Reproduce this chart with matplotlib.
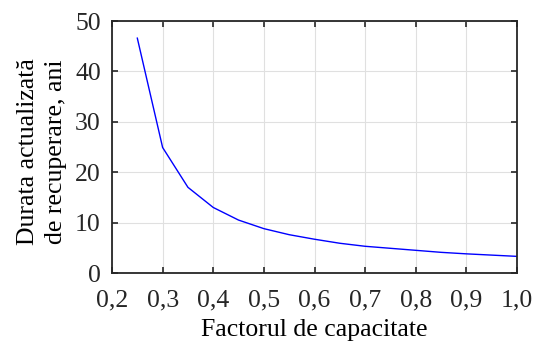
import matplotlib.pyplot as plt

plt.rcParams['font.family'] = ['Liberation Serif', 'DejaVu Serif']
plt.rcParams['font.size'] = 18.5

# capacity factor vs. discounted payback period (years)
factor = [0.25, 0.30, 0.35, 0.40, 0.45, 0.50, 0.55, 0.60, 0.65, 0.70,
          0.75, 0.80, 0.85, 0.90, 0.95, 1.00]
durata = [46.6, 24.9, 17.0, 13.0, 10.5, 8.8, 7.6, 6.7, 5.9, 5.3,
          4.9, 4.5, 4.1, 3.8, 3.55, 3.3]
xticks = [0.2, 0.3, 0.4, 0.5, 0.6, 0.7, 0.8, 0.9, 1.0]
xlabels = ['0,2', '0,3', '0,4', '0,5', '0,6', '0,7', '0,8', '0,9', '1,0']
yticks = [0, 10, 20, 30, 40, 50]

fig = plt.figure(figsize=(5.34, 3.41), dpi=100)
ax = fig.add_axes([112/534, 1 - 273/341, 405/534, 252/341])

ax.plot(factor, durata, color='blue', lw=1.0)

ax.set_xlim(0.2, 1.0)
ax.set_ylim(0, 50)
ax.set_xticks(xticks)
ax.set_xticklabels(xlabels)
ax.set_yticks(yticks)
ax.grid(True, color='#e0e0e0', lw=0.8)
ax.set_axisbelow(True)
ax.tick_params(direction='in', top=True, right=True, length=4, width=1.2,
               colors='#262626', labelcolor='#262626')
ax.tick_params(axis='x', pad=12)
ax.tick_params(axis='y', pad=8)
for s in ax.spines.values():
    s.set_linewidth(1.3)
    s.set_color('#262626')

ax.set_xlabel('Factorul de capacitate', labelpad=5)
ax.set_ylabel('Durata actualizată\nde recuperare, ani', linespacing=1.4)
ax.yaxis.set_label_coords(-0.11, 0.48)

fig.savefig('out.png', dpi=100)
